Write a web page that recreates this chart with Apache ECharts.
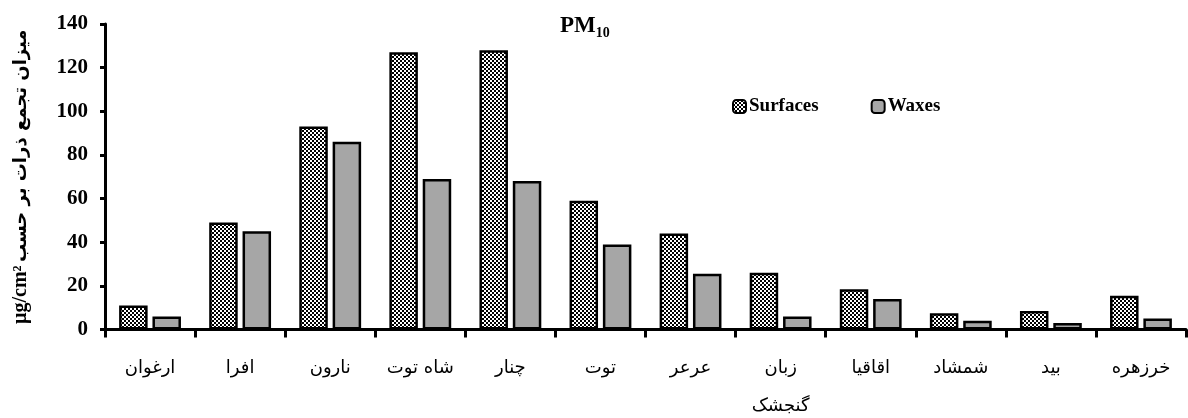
<!DOCTYPE html>
<html><head><meta charset="utf-8">
<script src="https://cdn.jsdelivr.net/npm/echarts@6/dist/echarts.min.js"></script>
<style>html,body{margin:0;padding:0;background:#fff}#c{width:1188px;height:418px}</style>
</head><body><div id="c"></div>
<script>
const categories = ['ارغوان','افرا','نارون','شاه توت','چنار','توت','عرعر','زبان گنجشک','اقاقیا','شمشاد','بید','خرزهره'];
const surfaces = [11, 49, 93, 127, 128, 59, 44, 26, 18.5, 7.5, 8.5, 15.5];
const waxes = [6, 45, 86, 69, 68, 39, 25.5, 6, 14, 4, 3, 5];
const yTicks = {min: 0, max: 140, interval: 20};

function makePattern() {
  const c = document.createElement('canvas');
  c.width = 4; c.height = 4;
  const g = c.getContext('2d');
  g.fillStyle = '#fff'; g.fillRect(0,0,4,4);
  g.fillStyle = '#000';
  g.fillRect(0,0,2,2); g.fillRect(2,2,2,2);
  return c;
}
const pat = {image: makePattern(), repeat: 'repeat'};
const serif = '"Liberation Serif", "DejaVu Serif", serif';
const arab = '"DejaVu Sans", sans-serif';

const chart = echarts.init(document.getElementById('c'));
chart.setOption({
  animation: false,
  title: {
    text: '{a|PM}{b|10}', left: 555, top: 8,
    textStyle: {rich: {
      a: {fontFamily: serif, fontWeight: 'bold', fontSize: 23, color: '#000'},
      b: {fontFamily: serif, fontWeight: 'bold', fontSize: 14, color: '#000', padding: [13, 0, 0, 0]}
    }}
  },
  legend: {
    left: 727, top: 92, itemWidth: 13, itemHeight: 13, itemGap: 52,
    textStyle: {fontFamily: serif, fontWeight: 'bold', fontSize: 19, color: '#000', padding: [0,0,0,-2]},
    data: ['Surfaces', 'Waxes']
  },
  grid: {left: 105, right: 2, top: 24, bottom: 88.5, outerBoundsMode: 'none', containLabel: false},
  xAxis: {
    type: 'category', data: categories,
    axisLine: {lineStyle: {color: '#000', width: 3}},
    axisTick: {show: true, length: 8, lineStyle: {color: '#000', width: 3}},
    axisLabel: {
      margin: 20, fontFamily: arab, fontSize: 18, color: '#000', lineHeight: 38,
      formatter: v => v === 'زبان گنجشک' ? 'زبان\nگنجشک' : v
    }
  },
  yAxis: {
    type: 'value', min: yTicks.min, max: yTicks.max, interval: yTicks.interval,
    splitLine: {show: false},
    axisLine: {show: true, lineStyle: {color: '#000', width: 3}},
    axisTick: {show: true, length: 5, lineStyle: {color: '#000', width: 3}},
    axisLabel: {margin: 17, fontFamily: serif, fontWeight: 'bold', fontSize: 21, color: '#000'},
    name: '{u|µg/cm²} {p|میزان تجمع ذرات بر حسب}',
    nameLocation: 'middle', nameRotate: 90, nameGap: 74,
    nameTextStyle: {rich: {
      u: {fontFamily: serif, fontWeight: 'bold', fontSize: 20, color: '#000'},
      p: {fontFamily: arab, fontWeight: 'bold', fontSize: 18, color: '#000'}
    }}
  },
  series: [
    {name: 'Surfaces', type: 'bar', data: surfaces, barWidth: 28.5, barGap: '17%',
     itemStyle: {color: pat, borderColor: '#000', borderWidth: 2.5}},
    {name: 'Waxes', type: 'bar', data: waxes, barWidth: 28.5,
     itemStyle: {color: '#a6a6a6', borderColor: '#000', borderWidth: 2.5}}
  ]
});
</script></body></html>
